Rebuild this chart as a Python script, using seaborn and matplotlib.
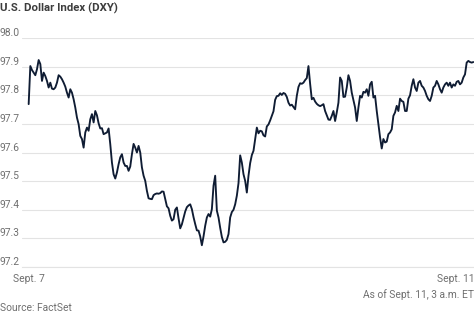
import matplotlib
matplotlib.use("Agg")
import matplotlib.pyplot as plt
import seaborn as sns
import numpy as np
import pandas as pd

# ---- data ----
seg_thu_1 = [97.769, 97.902, 97.888, 97.879, 97.870, 97.891, 97.923, 97.909, 97.850, 97.879,
             97.867, 97.850, 97.827, 97.844, 97.823, 97.821, 97.827, 97.844, 97.870, 97.865,
             97.856, 97.844, 97.830, 97.809, 97.792, 97.821, 97.809, 97.786, 97.757, 97.722,
             97.699, 97.658, 97.647, 97.617, 97.670, 97.687, 97.676, 97.716, 97.734, 97.705,
             97.745]
seg_thu_2 = [97.730, 97.702, 97.684, 97.685, 97.664, 97.667, 97.670, 97.684, 97.629, 97.565,
             97.524, 97.509, 97.530, 97.559, 97.583, 97.594, 97.565, 97.553, 97.553, 97.536,
             97.551, 97.594, 97.630, 97.617, 97.600, 97.623, 97.600, 97.548, 97.519, 97.501,
             97.466, 97.440, 97.438, 97.437, 97.451, 97.455, 97.457, 97.456, 97.458, 97.464,
             97.463, 97.437, 97.412, 97.405]
seg_fri_1 = [97.379, 97.362, 97.367, 97.400, 97.408, 97.370, 97.335, 97.349, 97.372, 97.394,
             97.409, 97.415, 97.419, 97.402, 97.374, 97.350, 97.328, 97.327, 97.307, 97.276,
             97.307, 97.344, 97.373, 97.385, 97.376, 97.402, 97.484, 97.519, 97.397, 97.373,
             97.337, 97.305, 97.286, 97.288, 97.295, 97.315, 97.373, 97.392, 97.400, 97.419,
             97.449, 97.493, 97.590, 97.565, 97.524]
seg_fri_2 = [97.501, 97.460, 97.519, 97.563, 97.591, 97.606, 97.647, 97.687, 97.667, 97.676,
             97.674, 97.660, 97.656, 97.691, 97.698, 97.712, 97.728, 97.744, 97.784, 97.797,
             97.798, 97.807, 97.801, 97.808, 97.805, 97.794, 97.774, 97.764, 97.767, 97.759,
             97.751, 97.798, 97.829, 97.842, 97.840, 97.844, 97.853, 97.860, 97.902, 97.840,
             97.786, 97.791, 97.778, 97.770, 97.765]
seg_mon_1 = [97.762, 97.765, 97.769, 97.745, 97.730, 97.715, 97.714, 97.728, 97.745, 97.710,
             97.740, 97.774, 97.862, 97.850, 97.794, 97.795, 97.827, 97.870, 97.850, 97.809,
             97.783, 97.757, 97.710, 97.757, 97.798, 97.792, 97.812, 97.809, 97.821, 97.798,
             97.838, 97.847, 97.792, 97.798, 97.745, 97.699, 97.653, 97.614, 97.647, 97.635,
             97.638, 97.664, 97.670]
seg_mon_2 = [97.681, 97.728, 97.740, 97.763, 97.745, 97.788, 97.780, 97.777, 97.745, 97.745,
             97.788, 97.800, 97.833, 97.856, 97.827, 97.815, 97.844, 97.850, 97.833, 97.827,
             97.815, 97.798, 97.786, 97.780, 97.798, 97.827, 97.833, 97.850, 97.838, 97.821,
             97.809, 97.827, 97.838, 97.844, 97.833, 97.844, 97.827, 97.838, 97.833, 97.847,
             97.850, 97.838, 97.844, 97.862, 97.873, 97.914, 97.920, 97.916, 97.914, 97.916]

dxy = seg_thu_1 + seg_thu_2 + seg_fri_1 + seg_fri_2 + seg_mon_1 + seg_mon_2
step = list(range(len(dxy)))

y_ticks = [97.2, 97.3, 97.4, 97.5, 97.6, 97.7, 97.8, 97.9, 98.0]
y_tick_labels = ["97.2", "97.3", "97.4", "97.5", "97.6", "97.7", "97.8", "97.9", "98.0"]
x_ticks = [0, 18.8, 98, 177.2, 256.4]
x_tick_labels = ["Sept. 7", "", "", "", "Sept. 11"]

title = "U.S. Dollar Index (DXY)"
source = "Source: FactSet"
note = "As of Sept. 11, 3 a.m. ET"

df = pd.DataFrame({"step": step, "dxy": dxy})

# ---- style ----
sns.set_style("white")
plt.rcParams["font.family"] = ["Roboto", "DejaVu Sans"]

W, H = 474, 314
fig = plt.figure(figsize=(W / 100, H / 100), dpi=100)
ax = fig.add_axes([22 / W, (H - 267) / H, (W - 22) / W, (267 - 38) / H])

sns.lineplot(data=df, x="step", y="dxy", ax=ax, color="#0f1c33", linewidth=1.35)

ax.set_xlim(-4, 267.4)
ax.set_ylim(97.2, 98.0)
ax.set_xlabel("")
ax.set_ylabel("")

grid_c = "#e3e3e3"
ax.set_yticks(y_ticks)
ax.set_yticklabels(y_tick_labels)
ax.yaxis.grid(True, color=grid_c, linewidth=0.8)
ax.set_axisbelow(True)
ax.tick_params(axis="y", length=0, pad=1.5, labelsize=7.4, labelcolor="#6f6f6f")
for lab in ax.get_yticklabels():
    lab.set_verticalalignment("bottom")
    lab.set_horizontalalignment("right")

ax.set_xticks(x_ticks)
ax.set_xticklabels(x_tick_labels)
ax.tick_params(axis="x", length=2.6, width=0.7, color="#bdbdbd", direction="out",
               pad=2.5, labelsize=7.4, labelcolor="#6f6f6f")

for s in ["top", "right", "left"]:
    ax.spines[s].set_visible(False)
ax.spines["bottom"].set_color(grid_c)
ax.spines["bottom"].set_linewidth(0.8)

fig.text(0.0, 1 - 8.5 / H, title, ha="left", va="center", fontsize=8.2,
         fontweight="bold", color="#3d3d3d")
fig.text(1.0, 1 - 295 / H, note, ha="right", va="center", fontsize=7.4, color="#6f6f6f")
fig.text(0.0, 1 - 308 / H, source, ha="left", va="center", fontsize=7.4, color="#6f6f6f")

fig.savefig("out.png", dpi=100)
